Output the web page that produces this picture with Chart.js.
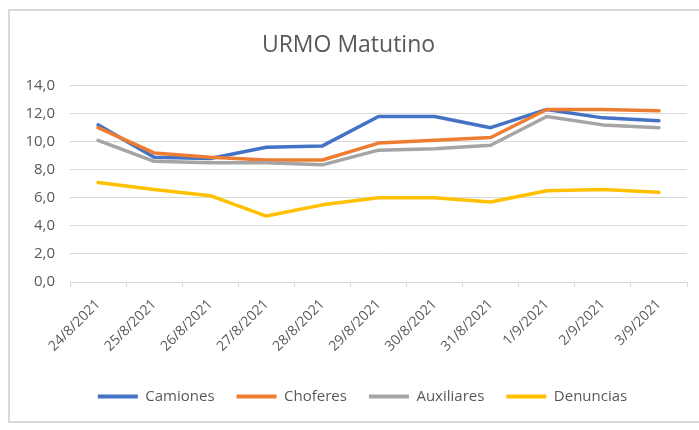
<!DOCTYPE html>
<html>
<head>
<meta charset="utf-8">
<script src="https://cdn.jsdelivr.net/npm/chart.js@4/dist/chart.umd.min.js"></script>
<style>
  body { margin: 0; background: #fff; }
  #frame {
    position: absolute; left: 8px; top: 9px; width: 710px; height: 414px;
    border: 2px solid #d9d9d9; box-sizing: border-box;
  }
  #urmo { position: absolute; left: 0; top: 0; }
</style>
</head>
<body>
<div id="frame"></div>
<canvas id="urmo" width="699" height="430"></canvas>
<script>
const fechas = ['24/8/2021', '25/8/2021', '26/8/2021', '27/8/2021', '28/8/2021', '29/8/2021',
  '30/8/2021', '31/8/2021', '1/9/2021', '2/9/2021', '3/9/2021'];
const camiones = [11.2, 8.9, 8.8, 9.6, 9.7, 11.8, 11.8, 11.0, 12.3, 11.7, 11.5];
const choferes = [11.0, 9.2, 8.9, 8.7, 8.7, 9.9, 10.1, 10.3, 12.3, 12.3, 12.2];
const auxiliares = [10.1, 8.6, 8.5, 8.5, 8.35, 9.4, 9.5, 9.75, 11.8, 11.2, 11.0];
const denuncias = [7.1, 6.6, 6.15, 4.7, 5.5, 6.0, 6.0, 5.7, 6.5, 6.6, 6.4];

const gris = '#595959';
const grilla = '#d9d9d9';

const serie = (label, data, color, order) => ({
  label,
  data,
  borderColor: color,
  backgroundColor: color,
  borderWidth: 3.5,
  borderCapStyle: 'round',
  borderJoinStyle: 'round',
  pointRadius: 0,
  tension: 0,
  order,
});

// la leyenda de Excel no queda centrada en el ancho del canvas
const moverLeyenda = {
  id: 'moverLeyenda',
  beforeDraw(chart) {
    chart.legend.left += 14;
    chart.legend.right += 14;
  },
  afterDraw(chart) {
    chart.legend.left -= 14;
    chart.legend.right -= 14;
  },
};

const ctx = document.getElementById('urmo');

new Chart(ctx, {
  type: 'line',
  data: {
    labels: fechas,
    datasets: [
      serie('Camiones', camiones, '#4472C4', 4),
      serie('Choferes', choferes, '#ED7D31', 3),
      serie('Auxiliares', auxiliares, '#A5A5A5', 2),
      serie('Denuncias', denuncias, '#FFC000', 1),
    ],
  },
  plugins: [moverLeyenda],
  options: {
    responsive: false,
    animation: false,
    layout: {
      padding: { top: 32, right: 12, left: 10, bottom: 16 },
    },
    plugins: {
      title: {
        display: true,
        text: 'URMO Matutino',
        color: gris,
        font: { family: 'Open Sans', size: 23, weight: 'normal' },
        padding: { top: 0, bottom: 26 },
      },
      legend: {
        position: 'bottom',
        labels: {
          color: gris,
          font: { family: 'Open Sans', size: 15 },
          boxWidth: 40,
          boxHeight: 4,
          padding: 22,
          generateLabels: (chart) => chart.data.datasets.map((ds, i) => ({
            text: ds.label,
            fillStyle: ds.borderColor,
            strokeStyle: ds.borderColor,
            lineWidth: 0,
            fontColor: gris,
            datasetIndex: i,
          })),
        },
      },
      tooltip: { enabled: false },
    },
    scales: {
      x: {
        offset: true,
        grid: {
          offset: true,
          drawOnChartArea: false,
          color: grilla,
          tickLength: 5,
        },
        border: { color: grilla, width: 1 },
        ticks: {
          color: gris,
          font: { family: 'Open Sans', size: 14 },
          minRotation: 45,
          maxRotation: 45,
          padding: 9,
        },
        afterFit: (scale) => { scale.height = 85; },
      },
      y: {
        min: 0,
        max: 14,
        grid: { color: grilla, drawTicks: false, lineWidth: 1 },
        border: { display: false },
        ticks: {
          stepSize: 2,
          color: gris,
          font: { family: 'Open Sans', size: 15 },
          padding: 15,
          callback: (v) => v.toFixed(1).replace('.', ','),
        },
        afterFit: (scale) => { scale.width = 60; },
      },
    },
  },
});
</script>
</body>
</html>
